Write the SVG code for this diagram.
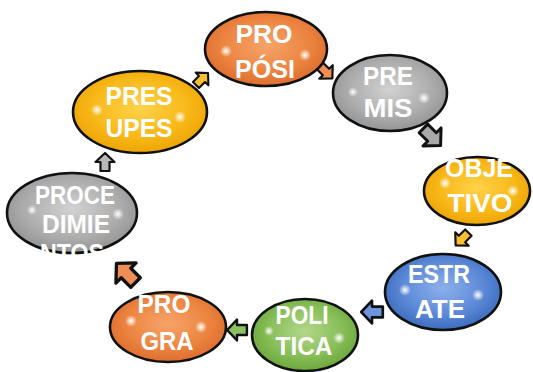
<svg xmlns="http://www.w3.org/2000/svg" width="533" height="372" viewBox="0 0 533 372">
<defs>
  <radialGradient id="gOr" cx="50%" cy="45%" r="60%">
    <stop offset="0" stop-color="#F6A46A"/><stop offset="0.6" stop-color="#EC8440"/><stop offset="1" stop-color="#D9682A"/>
  </radialGradient>
  <radialGradient id="gGr" cx="50%" cy="45%" r="60%">
    <stop offset="0" stop-color="#D2D2D2"/><stop offset="0.6" stop-color="#ADADAD"/><stop offset="1" stop-color="#8E8E8E"/>
  </radialGradient>
  <radialGradient id="gYe" cx="50%" cy="45%" r="60%">
    <stop offset="0" stop-color="#FFD24A"/><stop offset="0.6" stop-color="#F8B818"/><stop offset="1" stop-color="#E9A000"/>
  </radialGradient>
  <radialGradient id="gBl" cx="50%" cy="45%" r="60%">
    <stop offset="0" stop-color="#8DB0EC"/><stop offset="0.6" stop-color="#5A88D6"/><stop offset="1" stop-color="#3564B8"/>
  </radialGradient>
  <radialGradient id="gGn" cx="50%" cy="45%" r="60%">
    <stop offset="0" stop-color="#B2D88A"/><stop offset="0.6" stop-color="#86BD56"/><stop offset="1" stop-color="#64A136"/>
  </radialGradient>
  <radialGradient id="hl" cx="50%" cy="50%" r="50%">
    <stop offset="0" stop-color="#FFFFFF" stop-opacity="1"/><stop offset="1" stop-color="#FFFFFF" stop-opacity="0"/>
  </radialGradient>
  <path id="arr" d="M-9,-4.5 L0,-4.5 L0,-9.5 L9,0 L0,9.5 L0,4.5 L-9,4.5 Z"/>
</defs>
<style>
  .bub { stroke: #111; stroke-width: 2.6; }
  .t { font-family: "Liberation Sans", Arial, sans-serif; font-weight: bold; font-size: 25px; fill: #FFFFFF; text-anchor: middle; }
  .a { stroke: #111; stroke-width: 2.2; stroke-linejoin: round; }
  .h { fill: url(#hl); }
</style>
<rect width="533" height="372" fill="#FFFFFF"/>

<g id="connectors">
  <use href="#arr" class="a" fill="#EE8E55" transform="translate(326,72) rotate(45) scale(1.0)"/>
  <use href="#arr" class="a" fill="#A8A8A8" transform="translate(432,137) rotate(45) scale(1.35)"/>
  <use href="#arr" class="a" fill="#F8C030" transform="translate(462,239) rotate(135) scale(1.0)"/>
  <use href="#arr" class="a" fill="#6C96DC" transform="translate(372,312) rotate(180) scale(1.2)"/>
  <use href="#arr" class="a" fill="#8CC064" transform="translate(237,330) rotate(180) scale(1.1)"/>
  <use href="#arr" class="a" fill="#EE8E55" transform="translate(126,273) rotate(-135) scale(1.5)"/>
  <use href="#arr" class="a" fill="#B8B8B8" transform="translate(105,162) rotate(-90) scale(1.0)"/>
  <use href="#arr" class="a" fill="#F8C030" transform="translate(202,79) rotate(-45) scale(0.95)"/>
</g>

<g id="proposi">
  <ellipse class="bub" cx="266" cy="49" rx="61" ry="37" fill="url(#gOr)"/>
  <circle class="h" cx="226" cy="51" r="6"/><circle class="h" cx="305" cy="55" r="6"/>
  <text class="t" x="264" y="43" textLength="57" lengthAdjust="spacingAndGlyphs">PRO</text>
  <text class="t" x="265" y="78" textLength="60" lengthAdjust="spacingAndGlyphs">PÓSI</text>
</g>

<g id="premis">
  <ellipse class="bub" cx="390" cy="93" rx="57" ry="38" fill="url(#gGr)"/>
  <circle class="h" cx="353" cy="92" r="5"/><circle class="h" cx="424" cy="98" r="6"/>
  <text class="t" x="388" y="85" textLength="50" lengthAdjust="spacingAndGlyphs">PRE</text>
  <text class="t" x="388" y="117" textLength="49" lengthAdjust="spacingAndGlyphs">MIS</text>
</g>

<g id="objetivo">
  <ellipse class="bub" cx="477" cy="191" rx="53" ry="34" fill="url(#gYe)"/>
  <circle class="h" cx="445" cy="183" r="6"/><circle class="h" cx="513" cy="191" r="6"/>
  <text class="t" x="479" y="177" textLength="68" lengthAdjust="spacingAndGlyphs">OBJE</text>
  <text class="t" x="480" y="212" textLength="65" lengthAdjust="spacingAndGlyphs">TIVO</text>
</g>

<g id="estrate">
  <ellipse class="bub" cx="443" cy="292" rx="58" ry="38" fill="url(#gBl)"/>
  <circle class="h" cx="405" cy="290" r="6"/><circle class="h" cx="478" cy="295" r="6"/>
  <text class="t" x="439" y="283" textLength="62" lengthAdjust="spacingAndGlyphs">ESTR</text>
  <text class="t" x="440" y="318" textLength="50" lengthAdjust="spacingAndGlyphs">ATE</text>
</g>

<g id="politica">
  <ellipse class="bub" cx="305" cy="335" rx="53" ry="36" fill="url(#gGn)"/>
  <circle class="h" cx="269" cy="331" r="5"/><circle class="h" cx="339" cy="338" r="6"/>
  <text class="t" x="302" y="324" textLength="53" lengthAdjust="spacingAndGlyphs">POLI</text>
  <text class="t" x="304" y="355" textLength="57" lengthAdjust="spacingAndGlyphs">TICA</text>
</g>

<g id="programa">
  <ellipse class="bub" cx="168" cy="327" rx="58" ry="35" fill="url(#gOr)"/>
  <circle class="h" cx="131" cy="321" r="6"/><circle class="h" cx="201" cy="327" r="6"/>
  <text class="t" x="164" y="313" textLength="53" lengthAdjust="spacingAndGlyphs">PRO</text>
  <text class="t" x="167" y="350" textLength="53" lengthAdjust="spacingAndGlyphs">GRA</text>
</g>

<g id="procedimientos">
  <ellipse class="bub" cx="72" cy="213" rx="65" ry="40" fill="url(#gGr)"/>
  <circle class="h" cx="32" cy="210" r="5"/><circle class="h" cx="118" cy="214" r="6"/>
  <text class="t" x="75" y="204" font-size="24" textLength="80" lengthAdjust="spacingAndGlyphs">PROCE</text>
  <text class="t" x="76" y="233" font-size="24" textLength="68" lengthAdjust="spacingAndGlyphs">DIMIE</text>
  <text class="t" x="72" y="262" font-size="24" textLength="64" lengthAdjust="spacingAndGlyphs">NTOS</text>
</g>

<g id="presupes">
  <ellipse class="bub" cx="140" cy="112" rx="67" ry="41" fill="url(#gYe)"/>
  <circle class="h" cx="97" cy="110" r="6"/><circle class="h" cx="180" cy="117" r="6"/>
  <text class="t" x="139" y="105" textLength="67" lengthAdjust="spacingAndGlyphs">PRES</text>
  <text class="t" x="139" y="137" textLength="67" lengthAdjust="spacingAndGlyphs">UPES</text>
</g>
</svg>
